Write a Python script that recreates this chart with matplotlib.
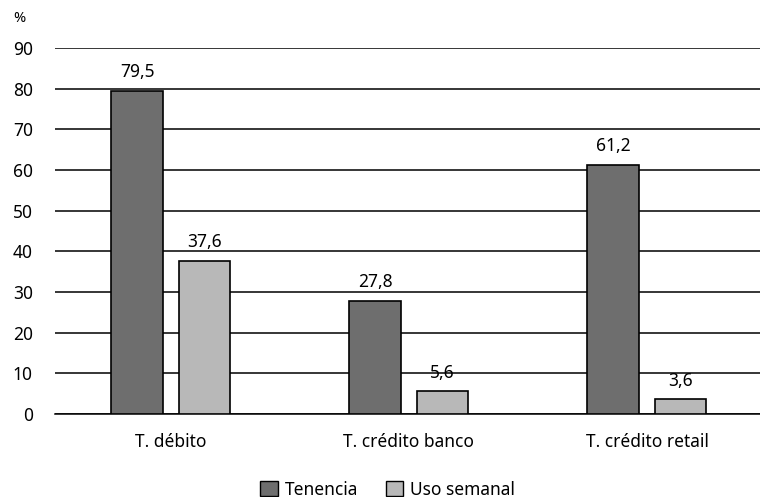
import matplotlib
matplotlib.use("Agg")
import matplotlib.pyplot as plt
import numpy as np
from matplotlib.patches import Patch

categories = ["T. débito", "T. crédito banco", "T. crédito retail"]
tenencia = [79.5, 27.8, 61.2]
uso_semanal = [37.6, 5.6, 3.6]
series_names = ["Tenencia", "Uso semanal"]
yticks = [0, 10, 20, 30, 40, 50, 60, 70, 80, 90]

plt.rcParams['font.family'] = ['Noto Sans', 'DejaVu Sans']
dark = "#6e6e6e"
light = "#b8b8b8"
fs = 12.5

fig = plt.figure(figsize=(7.6, 4.97), dpi=100)
ax = fig.add_axes([0.0724, 0.167, 0.9276, 0.7364])

x = np.arange(len(categories))
w = 0.218
off = 0.141
b1 = ax.bar(x - off, tenencia, w, color=dark, edgecolor="black", linewidth=1.2, zorder=3)
b2 = ax.bar(x + off, uso_semanal, w, color=light, edgecolor="black", linewidth=1.2, zorder=3)

def fmt(v):
    return f"{v:.1f}".replace(".", ",")

for bars, vals in ((b1, tenencia), (b2, uso_semanal)):
    for r, v in zip(bars, vals):
        ax.annotate(fmt(v), (r.get_x() + r.get_width() / 2, v), xytext=(0, 7),
                    textcoords="offset points", ha="center", va="bottom", fontsize=fs)

ax.set_ylim(0, 90)
ax.set_xlim(-0.487, 2.475)
ax.set_yticks(yticks)
ax.yaxis.grid(True, color="black", linewidth=1.1, zorder=0)
ax.set_axisbelow(True)
for s in ["top", "right", "left"]:
    ax.spines[s].set_visible(False)
ax.spines["bottom"].set_linewidth(1.1)
ax.tick_params(axis="y", length=0, pad=16, labelsize=fs)
ax.tick_params(axis="x", length=0, pad=14, labelsize=fs)
ax.set_xticks(x)
ax.set_xticklabels(categories)

fig.text(0.026, 0.962, "%", fontsize=10.5, ha="center", va="center")

handles = [Patch(facecolor=dark, edgecolor="black"), Patch(facecolor=light, edgecolor="black")]
fig.legend(handles, series_names, loc="center", bbox_to_anchor=(0.51, 0.015), ncol=2,
           frameon=False, fontsize=fs, handlelength=1.0, handleheight=1.0,
           handletextpad=0.4, columnspacing=1.6)

fig.savefig("out.png", dpi=100)
